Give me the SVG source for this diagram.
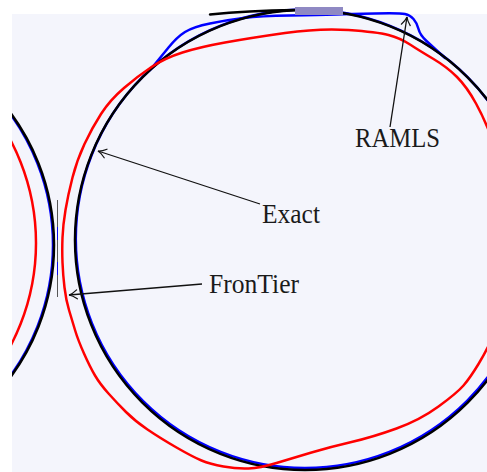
<svg xmlns="http://www.w3.org/2000/svg" width="487" height="472" viewBox="0 0 487 472">
<style>
.bg{fill:#f4f5fc}
.crv{fill:none;stroke-width:2.5;stroke-linejoin:round;stroke-linecap:round}
.blk{stroke:#000}
.red{stroke:#f00}
.blu{stroke:#00f}
.arr{fill:none;stroke:#111;stroke-width:1.3}
.lbl{font-family:"Liberation Serif","Times New Roman",serif;font-size:27px;fill:#1a1a1a}
</style>
<defs>
<marker id="ah" markerUnits="userSpaceOnUse" markerWidth="14" markerHeight="14" viewBox="-10 -7 12 14" refX="0" refY="0" orient="auto">
<path d="M-8,-4.5 C-5,-2 -2,-0.5 0,0 C-2,0.5 -5,2 -8,4.5" fill="none" stroke="#111" stroke-width="1.2" stroke-linecap="round"/>
</marker>
<clipPath id="leftclip"><rect x="12" y="0" width="475" height="472"/></clipPath>
</defs>
<rect width="487" height="472" fill="#fff"/>
<rect class="bg" x="12" y="14" width="475" height="458"/>
<g id="curves">
<g clip-path="url(#leftclip)">
<circle class="crv blu" cx="-169" cy="245" r="222"/>
<circle class="crv blk" cx="-168" cy="245" r="222"/>
<circle class="crv red" cx="-184" cy="243" r="220"/>
</g>
<line x1="57.5" y1="200" x2="57.5" y2="297" stroke="#444" stroke-width="0.9"/>
<line x1="57.5" y1="227" x2="57.5" y2="240" stroke="#00f" stroke-width="0.9"/>
<line x1="57.5" y1="262" x2="57.5" y2="275" stroke="#00f" stroke-width="0.9"/>
<circle class="crv blu" cx="305" cy="238.8" r="229.2"/>
<path class="crv blu" d="M150,70 L155,64 Q160,58 168.5,47.5 Q177,37 185,32 Q193,27 210,23.5 Q227,20 243.5,18 Q260,16 290,15.5 Q320,15 335,14.5 Q350,14 375,13.5 Q400,13 405,14 Q410,15 413.5,19 Q417,23 418.5,29 Q420,35 426.5,41 Q433,47 445,58"/>
<circle class="crv blk" cx="305" cy="240" r="230"/>
<path class="crv blk" d="M210,14.5 C235,12 265,10.5 295,10"/>
<path class="crv red" d="M69,310 Q66,300 64.5,287.5 Q63,275 62.5,262.5 Q62,250 62.5,237.5 Q63,225 65.5,210 Q68,195 72.5,177.5 Q77,160 84.5,144 Q92,128 101,114 Q110,100 124,88 Q138,76 151.5,67 Q165,58 182.5,52.5 Q200,47 225,42.5 Q250,38 285,33 Q320,28 348.5,30 Q377,32 388.5,35 Q400,38 410,44.5 Q420,51 433.5,59 Q447,67 457,77 Q467,87 476,103.5 Q485,120 492.5,140 Q500,160 505,200 Q510,240 505,280 Q500,320 493.5,335 Q487,350 478.5,364 Q470,378 463.5,385.5 Q457,393 438.5,406.5 Q420,420 396.5,428.5 Q373,437 351.5,442 Q330,447 311.5,452.5 Q293,458 276.5,463 Q260,468 248.5,468.5 Q237,469 223.5,466.5 Q210,464 201.5,460.5 Q193,457 176.5,447.5 Q160,438 147.5,429.5 Q135,421 126,412 Q117,403 108.5,393.5 Q100,384 95,375.5 Q90,367 84,353.5 Q78,340 75,330 Q72,320 69,310 Z"/>
<rect x="295" y="7" width="48" height="8" fill="#8f89c3"/>
</g>
<g id="connectors">
<line class="arr" x1="390" y1="127" x2="407" y2="17" marker-end="url(#ah)"/>
<line class="arr" x1="260" y1="204" x2="98" y2="151" marker-end="url(#ah)"/>
<line class="arr" x1="202" y1="284" x2="69" y2="295" marker-end="url(#ah)"/>
</g>
<g id="ramls"><text class="lbl" x="355" y="146.5" textLength="85" lengthAdjust="spacingAndGlyphs">RAMLS</text></g>
<g id="exact"><text class="lbl" x="262" y="223" textLength="58" lengthAdjust="spacingAndGlyphs">Exact</text></g>
<g id="frontier"><text class="lbl" x="209" y="293" textLength="90" lengthAdjust="spacingAndGlyphs">FronTier</text></g>
</svg>
